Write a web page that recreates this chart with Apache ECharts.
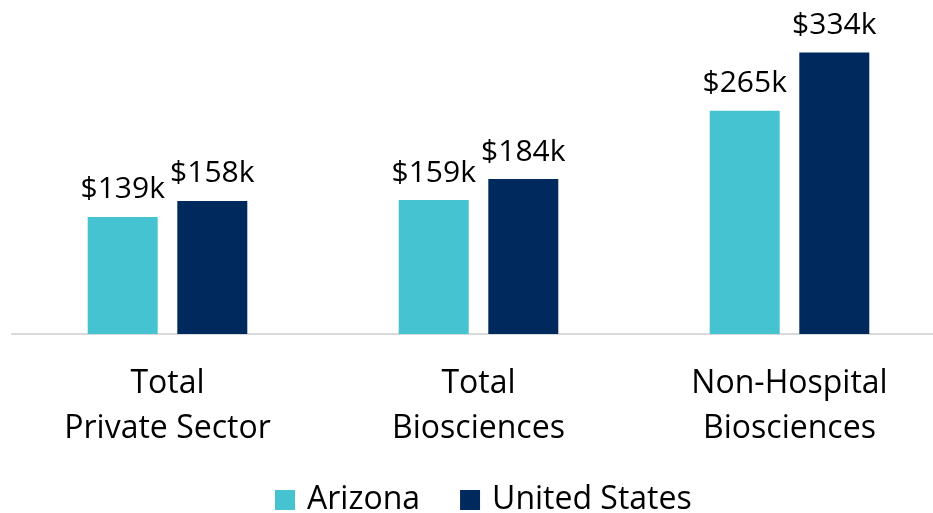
<!DOCTYPE html>
<html>
<head>
<meta charset="utf-8">
<script src="https://cdn.jsdelivr.net/npm/echarts@6/dist/echarts.min.js"></script>
<style>
html, body { margin: 0; padding: 0; background: #fff; }
#main { width: 933px; height: 513px; }
</style>
</head>
<body>
<div id="main"></div>
<script>
var categories = ['Total\nPrivate Sector', 'Total\nBiosciences', 'Non-Hospital\nBiosciences'];
var arizona = [139, 159, 265];
var unitedStates = [158, 184, 334];

var dom = document.getElementById('main');
var myChart = echarts.init(dom);
var font = 'Open Sans';

var labelOpt = {
    show: true,
    position: 'top',
    distance: 12,
    fontFamily: font,
    fontSize: 30,
    color: '#000',
    formatter: function (p) { return '$' + p.value + 'k'; }
};

var option = {
    animation: false,
    grid: {
        left: 12,
        width: 933,
        top: -3,
        bottom: 179,
        outerBoundsMode: 'none'
    },
    legend: {
        data: ['Arizona', 'United States'],
        top: 479,
        left: 270,
        itemWidth: 20,
        itemHeight: 20,
        itemGap: 40,
        icon: 'rect',
        textStyle: {
            fontFamily: font,
            fontSize: 32,
            color: '#000',
            padding: [0, 0, 0, 7]
        }
    },
    xAxis: {
        type: 'category',
        data: categories,
        axisLine: { lineStyle: { color: '#d9d9d9', width: 2 } },
        axisTick: { show: false },
        axisLabel: {
            interval: 0,
            margin: 27,
            fontFamily: font,
            fontSize: 32,
            lineHeight: 45,
            color: '#000'
        }
    },
    yAxis: {
        type: 'value',
        min: 0,
        max: 400,
        show: false,
        splitLine: { show: false }
    },
    series: [
        {
            name: 'Arizona',
            type: 'bar',
            barWidth: 70,
            barGap: '28%',
            itemStyle: { color: '#45c3d0' },
            label: labelOpt,
            data: arizona
        },
        {
            name: 'United States',
            type: 'bar',
            barWidth: 70,
            itemStyle: { color: '#002a5e' },
            label: labelOpt,
            data: unitedStates
        }
    ]
};

myChart.setOption(option);
</script>
</body>
</html>
